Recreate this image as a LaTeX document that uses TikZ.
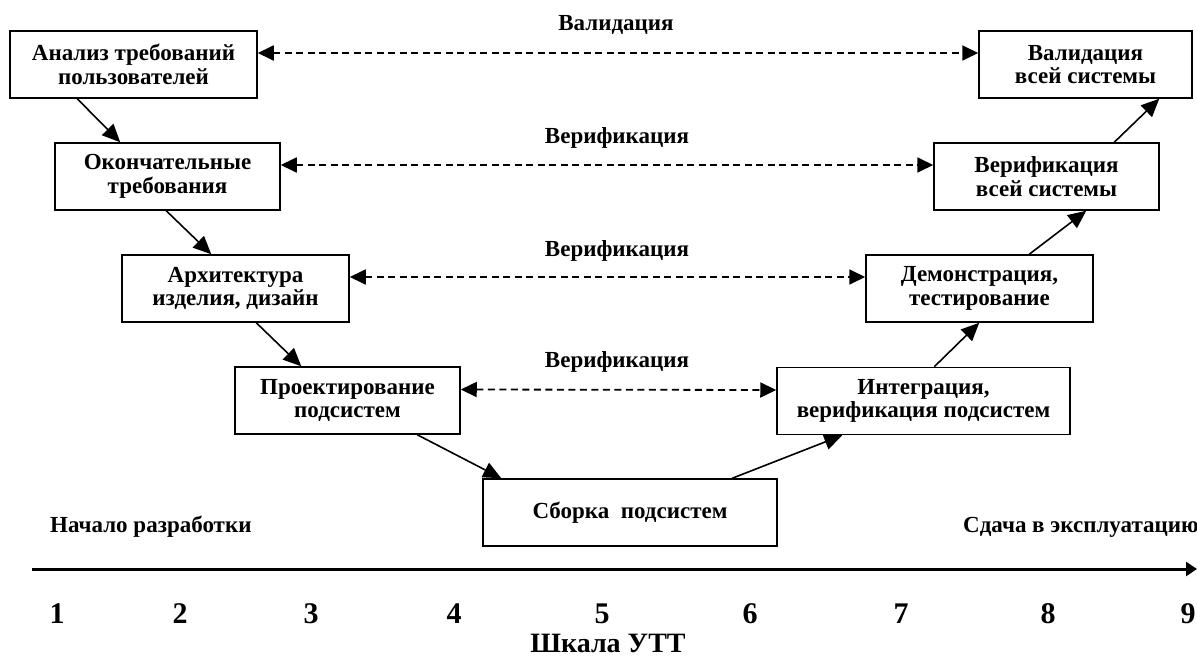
\documentclass[tikz,border=0pt]{standalone}
\usepackage{fontspec}
\setmainfont{Liberation Serif}
\usetikzlibrary{arrows.meta}
\begin{document}
\begin{tikzpicture}[x=1pt,y=-1pt,
  stage/.style={draw, line width=1.5pt, inner sep=0pt, minimum height=67pt,
    align=center, font=\fontsize{23}{23.5}\selectfont\bfseries},
  lbl/.style={inner sep=0pt, anchor=base, font=\fontsize{23}{24}\selectfont\bfseries},
  num/.style={inner sep=0pt, anchor=base, font=\fontsize{30}{32}\selectfont\bfseries},
  flow/.style={line width=1.6pt, -{Triangle[length=18pt,width=16pt]}},
  link/.style={line width=1.8pt, dash pattern=on 7pt off 4.5pt,
    {Triangle[length=16pt,width=15pt]}-{Triangle[length=16pt,width=15pt]}},
  axis/.style={line width=3pt, -{Triangle[length=11pt,width=14pt]}}
]
\useasboundingbox (0,0) rectangle (1197,658);

% stages
\node[stage, minimum width=247pt] (b1) at (133.5,64.5) {Анализ требований\\пользователей};
\node[stage, minimum width=225pt] (b2) at (167.5,176.5) {Окончательные\\требования};
\node[stage, minimum width=227pt] (b3) at (235.5,288.5) {Архитектура\\изделия, дизайн};
\node[stage, minimum width=225pt] (b4) at (347.5,400.5) {Проектирование\\подсистем};
\node[stage, minimum width=294pt] (b5) at (630,512.5) {Сборка~~подсистем};
\node[stage, minimum width=293pt] (b6) at (923.5,401) {Интеграция,\\верификация подсистем};
\node[stage, minimum width=227pt] (b7) at (979.5,288.5) {Демонстрация,\\тестирование};
\node[stage, minimum width=225pt] (b8) at (1046.5,176.5) {Верификация\\всей системы};
\node[stage, minimum width=213pt] (b9) at (1085.5,64.5) {Валидация\\всей системы};

% flow arrows
\draw[flow] ([xshift=68pt]b1.south west) -- ([xshift=66pt]b2.north west);
\draw[flow] ([xshift=112pt]b2.south west) -- ([xshift=90pt]b3.north west);
\draw[flow] ([xshift=135pt]b3.south west) -- ([xshift=67pt]b4.north west);
\draw[flow] ([xshift=183pt]b4.south west) -- ([xshift=19pt]b5.north west);
\draw[flow] ([xshift=250pt]b5.north west) -- ([xshift=66pt]b6.south west);
\draw[flow] ([xshift=158pt]b6.north west) -- ([xshift=114pt]b7.south west);
\draw[flow] ([xshift=164pt]b7.north west) -- ([xshift=153pt]b8.south west);
\draw[flow] ([xshift=181pt]b8.north west) -- ([xshift=181pt]b9.south west);

% validation / verification links
\draw[link] ([yshift=11.5pt]b1.east) -- ([yshift=11.5pt]b9.west);
\draw[link] ([yshift=11.5pt]b2.east) -- ([yshift=11.5pt]b8.west);
\draw[link] ([yshift=11.5pt]b3.east) -- ([yshift=11.5pt]b7.west);
\draw[link] ([yshift=11pt]b4.east) -- ([yshift=11pt]b6.west);

\node[lbl] (l1) at (616,31) {Валидация};
\node[lbl] (l2) at (617,144) {Верификация};
\node[lbl] (l3) at (617,256) {Верификация};
\node[lbl] (l4) at (617,367) {Верификация};

% scale
\node[lbl, anchor=base west] (start) at (50,532) {Начало разработки};
\node[lbl, anchor=base west] (end) at (963,532) {Сдача в эксплуатацию};
\coordinate (a0) at (32,569);
\coordinate (a1) at (1197,569);
\draw[axis] (a0) -- (a1);

\node[num] (n1) at (57,623) {1};
\node[num] (n2) at (180,623) {2};
\node[num] (n3) at (311,623) {3};
\node[num] (n4) at (454,623) {4};
\node[num] (n5) at (602,623) {5};
\node[num] (n6) at (750,623) {6};
\node[num] (n7) at (901,623) {7};
\node[num] (n8) at (1048,623) {8};
\node[num] (n9) at (1188,623) {9};

\node[inner sep=0pt, anchor=base, font=\fontsize{28}{30}\selectfont\bfseries] (scale) at (608,652) {Шкала УТТ};
\end{tikzpicture}
\end{document}
